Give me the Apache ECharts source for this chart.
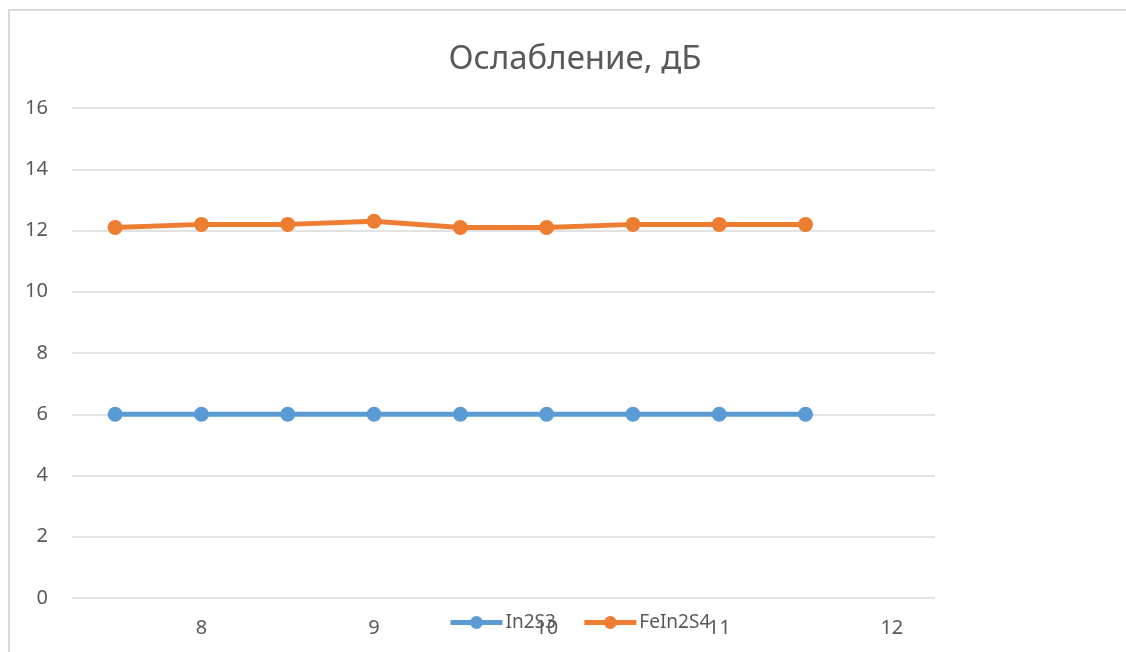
<!DOCTYPE html>
<html>
<head>
<meta charset="utf-8">
<script src="https://cdn.jsdelivr.net/npm/echarts@6/dist/echarts.min.js"></script>
<style>
  html, body { margin: 0; padding: 0; background: #fff; }
  #chart { width: 1126px; height: 652px; }
</style>
</head>
<body>
<div id="chart"></div>
<script>
// Frequency points (categories) and attenuation, dB
const categories = ['7.5', '8', '8.5', '9', '9.5', '10', '10.5', '11', '11.5', '12'];
const in2s3 = [6, 6, 6, 6, 6, 6, 6, 6, 6];
const feIn2s4 = [12.1, 12.2, 12.2, 12.3, 12.1, 12.1, 12.2, 12.2, 12.2];
const yTicks = { min: 0, max: 16, interval: 2 };

const FONT = 'Noto Sans';
const TEXT = '#595959';
const GRID = '#d9d9d9';

const chart = echarts.init(document.getElementById('chart'), null, { renderer: 'canvas' });

function lineSeries(name, data, color) {
  return {
    name: name,
    type: 'line',
    data: data,
    symbol: 'circle',
    symbolSize: 15,
    lineStyle: { color: color, width: 5 },
    itemStyle: { color: color },
    emphasis: { disabled: true },
    animation: false
  };
}

chart.setOption({
  backgroundColor: '#fff',
  animation: false,
  title: {
    text: 'Ослабление, дБ',
    left: 570,
    top: 38,
    textAlign: 'center',
    textStyle: { fontFamily: FONT, fontSize: 33, fontWeight: 'normal', color: TEXT }
  },
  legend: {
    left: 443,
    top: 608,
    itemWidth: 52,
    itemHeight: 16,
    itemGap: 26,
    lineStyle: { width: 5 },
    textStyle: { fontFamily: FONT, fontSize: 19, color: TEXT, padding: [0, 0, 0, -2] },
    data: ['In2S3', 'FeIn2S4']
  },
  grid: { left: 72, right: 191, top: 108, bottom: 54 },
  xAxis: {
    type: 'category',
    data: categories,
    boundaryGap: true,
    axisLine: { show: false },
    axisTick: { show: false },
    axisLabel: {
      interval: function (i) { return i % 2 === 1; },
      margin: 20,
      fontFamily: FONT, fontSize: 20, color: TEXT
    },
    splitLine: { show: false }
  },
  yAxis: {
    type: 'value',
    min: yTicks.min,
    max: yTicks.max,
    interval: yTicks.interval,
    axisLine: { show: false },
    axisTick: { show: false },
    axisLabel: { margin: 24, fontFamily: FONT, fontSize: 20, color: TEXT },
    splitLine: { lineStyle: { color: GRID, width: 1.5 } }
  },
  graphic: [{
    type: 'rect',
    shape: { x: 9, y: 10, width: 1200, height: 800 },
    style: { fill: 'none', stroke: GRID, lineWidth: 2 },
    silent: true
  }],
  series: [
    lineSeries('In2S3', in2s3, '#5b9bd5'),
    lineSeries('FeIn2S4', feIn2s4, '#ed7d31')
  ]
});
</script>
</body>
</html>
